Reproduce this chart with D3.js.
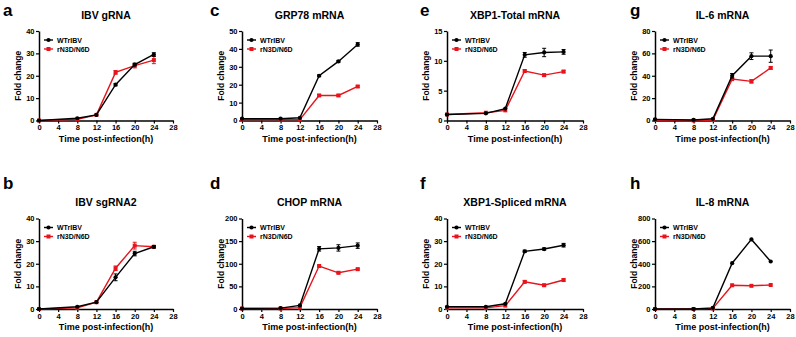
<!DOCTYPE html>
<html>
<head>
<meta charset="utf-8">
<script src="https://cdn.jsdelivr.net/npm/d3@7"></script>
<style>
  body { margin: 0; background: #fff; }
  svg { font-family: "Liberation Sans", Arial, sans-serif; font-weight: bold; }
</style>
</head>
<body>
<div id="container"></div>
<script>
// time points (h)
const hours = [0, 8, 12, 16, 20, 24];
const xTicks = [0, 4, 8, 12, 16, 20, 24, 28];
const seriesNames = ["WTrIBV", "rN3D/N6D"];

// panel titles / letters
const letters = ["a", "b", "c", "d", "e", "f", "g", "h"];
const titles = ["IBV gRNA", "IBV sgRNA2", "GRP78 mRNA", "CHOP mRNA",
  "XBP1-Total mRNA", "XBP1-Spliced mRNA", "IL-6 mRNA", "IL-8 mRNA"];
const yMax = [40, 40, 50, 200, 15, 40, 80, 800];
const yStep = [10, 10, 10, 50, 5, 10, 20, 200];

// fold change values (WT, mutant) and error bars
const wtGRNA = [0, 1, 2.5, 16, 25, 29.5];
const mutGRNA = [0, 0.5, 2.5, 21.5, 24.5, 27];
const wtGRNAErr = [0, 0, 0, 0.5, 0.6, 0.8];
const mutGRNAErr = [0, 0, 0, 0.8, 1, 1.6];

const wtSg = [0, 1, 3, 14, 24.5, 27.5];
const mutSg = [0, 0.5, 3, 18, 28, 27.5];
const wtSgErr = [0, 0, 0, 1.5, 1, 0.5];
const mutSgErr = [0, 0, 0, 1, 1.5, 0.5];

const wtGRP = [1, 1, 1.5, 25, 33, 42.5];
const mutGRP = [0.5, 0.5, 0.5, 14, 14, 19];
const wtGRPErr = [0, 0, 0, 0.5, 0.5, 1];
const mutGRPErr = [0, 0, 0, 0.5, 0.5, 0.5];

const wtCHOP = [1, 2, 8, 133, 135, 140];
const mutCHOP = [1, 1, 3, 95, 80, 88];
const wtCHOPErr = [0, 0, 0, 5, 7, 6];
const mutCHOPErr = [0, 0, 0, 2, 2, 2];

const wtXT = [1, 1.2, 2, 11, 11.4, 11.5];
const mutXT = [1, 1.3, 1.7, 8.3, 7.6, 8.2];
const wtXTErr = [0, 0, 0.1, 0.4, 0.7, 0.4];
const mutXTErr = [0, 0.1, 0, 0.2, 0.2, 0.2];

const wtXS = [1, 1, 2.3, 25.5, 26.5, 28.2];
const mutXS = [0.5, 0.5, 1.5, 12, 10.5, 12.8];
const wtXSErr = [0, 0, 0, 0.5, 0.5, 0.8];
const mutXSErr = [0, 0, 0, 0.5, 0.5, 0.5];

const wtIL6 = [1, 0.5, 1.5, 40, 57.5, 57.5];
const mutIL6 = [0.5, 0, 0.5, 37, 35, 47];
const wtIL6Err = [0, 0, 0, 2, 3, 5.5];
const mutIL6Err = [0, 0, 0, 1, 1.5, 1];

const wtIL8 = [0, 0, 10, 405, 615, 420];
const mutIL8 = [0, 0, 5, 210, 205, 212];
const wtIL8Err = [0, 0, 0, 5, 5, 5];
const mutIL8Err = [0, 0, 0, 5, 5, 5];

const wtAll = [wtGRNA, wtSg, wtGRP, wtCHOP, wtXT, wtXS, wtIL6, wtIL8];
const mutAll = [mutGRNA, mutSg, mutGRP, mutCHOP, mutXT, mutXS, mutIL6, mutIL8];
const wtErrAll = [wtGRNAErr, wtSgErr, wtGRPErr, wtCHOPErr, wtXTErr, wtXSErr, wtIL6Err, wtIL8Err];
const mutErrAll = [mutGRNAErr, mutSgErr, mutGRPErr, mutCHOPErr, mutXTErr, mutXSErr, mutIL6Err, mutIL8Err];

/* LAYOUT */
const colX = [[39, 173], [242, 377], [447, 583], [655, 790]];
const rowY = [[31, 120.5], [218.5, 309]];
const letterX = [3, 210, 420, 630];
const letterY = [16, 189];

const svg = d3.select("#container")
  .append("svg")
  .attr("width", 796)
  .attr("height", 337);

letters.forEach((letter, i) => {
  const col = Math.floor(i / 2), row = i % 2;
  const [x0, x1] = colX[col];
  const [yT, yB] = rowY[row];

  const xScale = d3.scaleLinear().domain([0, 28]).range([x0, x1]);
  const yScale = d3.scaleLinear().domain([0, yMax[i]]).range([yB, yT]);

  const g = svg.append("g");

  // panel letter
  g.append("text")
    .attr("x", letterX[col])
    .attr("y", letterY[row])
    .style("font-size", "17px")
    .text(letter);

  // title
  g.append("text")
    .attr("x", (x0 + x1) / 2)
    .attr("y", yT - 12 - (row === 0 ? 0 : 1))
    .attr("text-anchor", "middle")
    .style("font-size", "10.5px")
    .text(titles[i]);

  // axes
  const xAxis = g.append("g")
    .attr("transform", "translate(0," + yB + ")")
    .call(d3.axisBottom(xScale).tickValues(xTicks).tickSize(3).tickSizeOuter(0).tickPadding(1.5));
  const yAxis = g.append("g")
    .attr("transform", "translate(" + x0 + ",0)")
    .call(d3.axisLeft(yScale).ticks(yMax[i] / yStep[i]).tickSize(3).tickSizeOuter(0).tickPadding(1.5));
  [xAxis, yAxis].forEach(ax => {
    ax.select(".domain").attr("stroke", "#000").attr("stroke-width", 1.5);
    ax.selectAll(".tick line").attr("stroke", "#000").attr("stroke-width", 1.2);
    ax.selectAll(".tick text")
      .style("font-family", "Liberation Sans, Arial, sans-serif")
      .style("font-weight", "bold")
      .style("font-size", "7.5px")
      .attr("fill", "#000");
  });

  // axis labels
  g.append("text")
    .attr("x", (x0 + x1) / 2)
    .attr("y", yB + 21)
    .attr("text-anchor", "middle")
    .style("font-size", "9px")
    .text("Time post-infection(h)");
  g.append("text")
    .attr("transform", "translate(" + (x0 - 18) + "," + ((yT + yB) / 2) + ") rotate(-90)")
    .attr("text-anchor", "middle")
    .style("font-size", "8.5px")
    .text("Fold change");

  // series: mutant first (red), WT on top (black)
  const series = [
    { name: seriesNames[1], vals: mutAll[i], err: mutErrAll[i], color: "#e8131b", shape: d3.symbolSquare, size: 16 },
    { name: seriesNames[0], vals: wtAll[i], err: wtErrAll[i], color: "#000", shape: d3.symbolCircle, size: 14 }
  ];

  const line = d3.line()
    .x(d => xScale(d.h))
    .y(d => yScale(d.v));

  series.forEach(s => {
    const pts = hours.map((h, k) => ({ h: h, v: s.vals[k], e: s.err[k] }));
    g.append("path")
      .datum(pts)
      .attr("d", line)
      .attr("fill", "none")
      .attr("stroke", s.color)
      .attr("stroke-width", 1.4);

    // error bars
    const eb = g.append("g").attr("stroke", s.color).attr("stroke-width", 1);
    pts.filter(d => d.e > 0).forEach(d => {
      const x = xScale(d.h), yl = yScale(d.v - d.e), yh = yScale(d.v + d.e);
      if (Math.abs(yl - yh) < 1.5) return;
      eb.append("line").attr("x1", x).attr("x2", x).attr("y1", yl).attr("y2", yh);
      eb.append("line").attr("x1", x - 2).attr("x2", x + 2).attr("y1", yl).attr("y2", yl);
      eb.append("line").attr("x1", x - 2).attr("x2", x + 2).attr("y1", yh).attr("y2", yh);
    });

    g.append("g").selectAll("path")
      .data(pts)
      .enter()
      .append("path")
      .attr("transform", d => "translate(" + xScale(d.h) + "," + yScale(d.v) + ")")
      .attr("d", d3.symbol().type(s.shape).size(s.size))
      .attr("fill", s.color);
  });

  // legend
  const legend = [
    { name: seriesNames[0], color: "#000", shape: d3.symbolCircle, size: 14 },
    { name: seriesNames[1], color: "#e8131b", shape: d3.symbolSquare, size: 16 }
  ];
  legend.forEach((l, k) => {
    const ly = yT + 9 + k * 9;
    const lx = x0 + 5;
    g.append("line")
      .attr("x1", lx).attr("x2", lx + 9)
      .attr("y1", ly).attr("y2", ly)
      .attr("stroke", l.color).attr("stroke-width", 1.4);
    g.append("path")
      .attr("transform", "translate(" + (lx + 4.5) + "," + ly + ")")
      .attr("d", d3.symbol().type(l.shape).size(l.size))
      .attr("fill", l.color);
    g.append("text")
      .attr("x", lx + 13)
      .attr("y", ly + 2.5)
      .style("font-size", "7px")
      .text(l.name);
  });
});
</script>
</body>
</html>
